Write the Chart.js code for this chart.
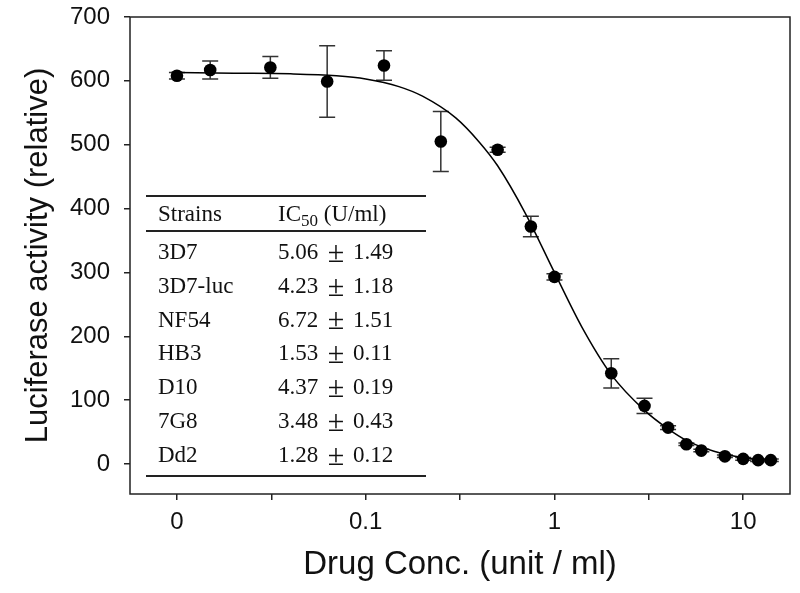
<!DOCTYPE html>
<html><head><meta charset="utf-8">
<script src="https://cdn.jsdelivr.net/npm/chart.js@4"></script>
<style>html,body{margin:0;padding:0;background:#fff}#wrap{width:800px;height:593px;position:relative}</style>
</head><body><div id="wrap"><canvas id="c" width="800" height="593"></canvas></div>
<script>
// Measured points (drug conc. in unit/ml; the "0" dose is plotted at 0.01)
const concentrations = [0.01, 0.015, 0.03125, 0.0625, 0.125, 0.25, 0.5, 0.75, 1, 2, 3, 4, 5, 6, 8, 10, 12, 14];
const activity      = [608, 617, 621, 599, 624, 505, 492, 372, 293, 142, 91, 57, 31, 21, 12, 8, 6, 6];
const activityErr   = [5, 14, 17, 56, 23, 47, 4, 16, 5, 23, 12, 3, 2, 2, 2, 2, 2, 2];

// Fitted dose-response curve
const fitConc = [0.01, 0.02, 0.04, 0.07, 0.1, 0.15, 0.2, 0.3, 0.4, 0.5, 0.7, 1, 1.4, 2, 3, 4, 5, 7, 10, 15];
const fitActivity = [613, 612, 611, 608, 603, 591, 576, 542, 504, 467, 393, 300, 214, 140, 84, 55, 37, 20, 10, 5];

// Axis ticks
const xTickValues = [0.01, 0.0316, 0.1, 0.316, 1, 3.16, 10];
const xTickLabels = ['0', '', '0.1', '', '1', '', '10'];
const yTickValues = [0, 100, 200, 300, 400, 500, 600, 700];

// Inset table
const strains = ['3D7', '3D7-luc', 'NF54', 'HB3', 'D10', '7G8', 'Dd2'];
const ic50Mean = ['5.06', '4.23', '6.72', '1.53', '4.37', '3.48', '1.28'];
const ic50Sd = ['1.49', '1.18', '1.51', '0.11', '0.19', '0.43', '0.12'];

const errorBars = {
  id: 'errorBars',
  beforeDatasetsDraw(chart) {
    const meta = chart.getDatasetMeta(0);
    const ys = chart.scales.y;
    const ctx = chart.ctx;
    ctx.save();
    ctx.strokeStyle = '#333';
    ctx.lineWidth = 1.5;
    meta.data.forEach((pt, i) => {
      const v = activity[i], e = activityErr[i];
      const yTop = ys.getPixelForValue(v + e), yBot = ys.getPixelForValue(v - e);
      const x = pt.x, cap = 8;
      ctx.beginPath();
      ctx.moveTo(x, yTop); ctx.lineTo(x, yBot);
      ctx.moveTo(x - cap, yTop); ctx.lineTo(x + cap, yTop);
      ctx.moveTo(x - cap, yBot); ctx.lineTo(x + cap, yBot);
      ctx.stroke();
    });
    ctx.restore();
  }
};

const frameAndTable = {
  id: 'frameAndTable',
  afterDraw(chart) {
    const ctx = chart.ctx, a = chart.chartArea;
    ctx.save();
    ctx.strokeStyle = '#222';
    ctx.lineWidth = 1.5;
    ctx.strokeRect(a.left, a.top, a.right - a.left, a.bottom - a.top);

    // table
    const x0 = 146, x1 = 426, col1 = 158, col2 = 278;
    ctx.lineWidth = 2;
    ctx.strokeStyle = '#222';
    [196, 231, 476].forEach(y => { ctx.beginPath(); ctx.moveTo(x0, y); ctx.lineTo(x1, y); ctx.stroke(); });
    ctx.fillStyle = '#111';
    ctx.textBaseline = 'middle';
    ctx.textAlign = 'left';
    const f = '"Liberation Serif", "Times New Roman", serif';
    ctx.font = '23px ' + f;
    ctx.fillText('Strains', col1, 215);
    ctx.fillText('IC', col2, 215);
    const w = ctx.measureText('IC').width;
    ctx.font = '17px ' + f;
    ctx.fillText('50', col2 + w, 222);
    const w2 = ctx.measureText('50').width;
    ctx.font = '23px ' + f;
    ctx.fillText(' (U/ml)', col2 + w + w2, 215);
    strains.forEach((s, i) => {
      const y = 253 + i * 33.8;
      ctx.font = '23px ' + f;
      ctx.textAlign = 'left';
      ctx.fillText(s, col1, y);
      ctx.fillText(ic50Mean[i], col2, y);
      ctx.fillText(ic50Sd[i], 353, y);
      ctx.font = '30px ' + f;
      ctx.textAlign = 'center';
      ctx.fillText('\u00B1', 336, y + 1);
    });
    ctx.restore();
  }
};

new Chart(document.getElementById('c'), {
  type: 'scatter',
  data: {
    datasets: [
      {
        label: 'Luciferase activity',
        data: concentrations.map((c, i) => ({x: c, y: activity[i]})),
        pointRadius: 6.3,
        pointHoverRadius: 6.3,
        pointBackgroundColor: '#000',
        pointBorderColor: '#000',
        pointBorderWidth: 0,
        showLine: false,
        order: 0
      },
      {
        label: 'Fit',
        data: fitConc.map((c, i) => ({x: c, y: fitActivity[i]})),
        showLine: true,
        borderColor: '#000',
        borderWidth: 1.5,
        pointRadius: 0,
        cubicInterpolationMode: 'monotone',
        fill: false,
        order: 1
      }
    ]
  },
  options: {
    responsive: false,
    animation: false,
    devicePixelRatio: 1,
    layout: { padding: { top: 17, right: 10, left: 0, bottom: 0 } },
    plugins: { legend: { display: false }, tooltip: { enabled: false } },
    scales: {
      x: {
        type: 'logarithmic',
        min: 0.00564,
        max: 17.7,
        afterBuildTicks(scale) { scale.ticks = xTickValues.map(v => ({value: v})); },
        afterFit(scale) {
          scale.height = 99;
          scale.paddingLeft = 0; scale.paddingRight = 0;
        },
        ticks: {
          autoSkip: false,
          maxRotation: 0,
          padding: 8,
          color: '#111',
          font: { family: '"Liberation Sans", Arial, sans-serif', size: 24 },
          callback(value) {
            const i = xTickValues.findIndex(v => Math.abs(v - value) / v < 1e-6);
            return i >= 0 ? xTickLabels[i] : '';
          }
        },
        grid: { display: true, drawOnChartArea: false, drawTicks: true, tickLength: 6, color: '#222', lineWidth: 1.5 },
        border: { display: false },
        title: {
          display: true,
          text: 'Drug Conc. (unit / ml)',
          color: '#111',
          font: { family: '"Liberation Sans", Arial, sans-serif', size: 33 },
          padding: { top: 0, bottom: 8 }
        }
      },
      y: {
        type: 'linear',
        min: -47,
        max: 700,
        afterBuildTicks(scale) { scale.ticks = yTickValues.map(v => ({value: v})); },
        afterFit(scale) {
          scale.width = 130;
          scale.paddingTop = 0; scale.paddingBottom = 0;
        },
        ticks: {
          padding: 14,
          color: '#111',
          font: { family: '"Liberation Sans", Arial, sans-serif', size: 24 }
        },
        grid: { display: true, drawOnChartArea: false, drawTicks: true, tickLength: 6, color: '#222', lineWidth: 1.5 },
        border: { display: false },
        title: {
          display: true,
          text: 'Luciferase activity (relative)',
          color: '#111',
          font: { family: '"Liberation Sans", Arial, sans-serif', size: 31 },
          padding: { top: 20, bottom: 0 }
        }
      }
    }
  },
  plugins: [errorBars, frameAndTable]
});
</script>
</body></html>
